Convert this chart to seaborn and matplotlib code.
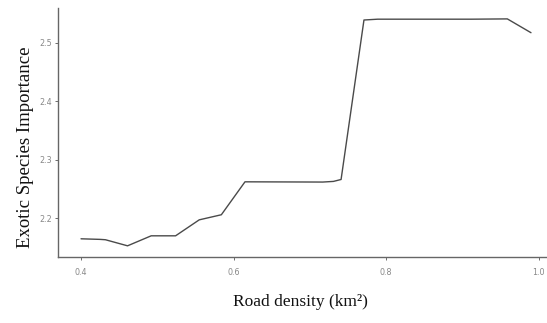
import matplotlib
matplotlib.use("Agg")
import matplotlib.pyplot as plt
import seaborn as sns
import pandas as pd

# Partial dependence of exotic species importance on road density
road_density = [0.400, 0.425, 0.432, 0.461, 0.492, 0.524, 0.555, 0.584,
                0.615, 0.717, 0.731, 0.741, 0.771, 0.789, 0.912, 0.959, 0.990]
importance = [2.1646, 2.1636, 2.1630, 2.1526, 2.1697, 2.1697, 2.1970, 2.2057,
              2.2620, 2.2616, 2.2627, 2.2660, 2.5386, 2.5400, 2.5400, 2.5405, 2.5169]

x_ticks = [0.4, 0.6, 0.8, 1.0]
x_tick_labels = ["0.4", "0.6", "0.8", "1.0"]
y_ticks = [2.2, 2.3, 2.4, 2.5]
y_tick_labels = ["2.2", "2.3", "2.4", "2.5"]

df = pd.DataFrame({"road_density": road_density, "importance": importance})

sns.set_theme(style="white")
plt.rcParams["font.family"] = ["DejaVu Sans"]

fig = plt.figure(figsize=(5.47, 3.23), dpi=100)
ax = fig.add_axes([0.106, 0.204, 0.894, 0.771])

sns.lineplot(data=df, x="road_density", y="importance", ax=ax,
             color="#4a4a4a", linewidth=1.0)

ax.set_xlim(0.3698, 1.011)
ax.set_ylim(2.1333, 2.559)

ax.set_xticks(x_ticks)
ax.set_xticklabels(x_tick_labels)
ax.set_yticks(y_ticks)
ax.set_yticklabels(y_tick_labels)

ax.tick_params(axis="both", which="both", length=2, width=0.6, color="#555555",
               labelsize=5.8, labelcolor="#888888", pad=2, direction="out",
               bottom=True, left=True)
ax.tick_params(axis="x", pad=6)

for side in ["top", "right"]:
    ax.spines[side].set_visible(False)
for side in ["left", "bottom"]:
    ax.spines[side].set_color("#666666")
    ax.spines[side].set_linewidth(1.0)

ax.set_xlabel("")
ax.set_ylabel("")
fig.text(0.549, 0.065, "Road density (km²)", ha="center", va="center",
         family="Liberation Serif", fontsize=12.5, color="#111111")
fig.text(0.046, 0.543, "Exotic Species Importance", ha="center", va="center",
         rotation=90, family="Liberation Serif", fontsize=13.5, color="#111111")

fig.savefig("out.png", dpi=100)
